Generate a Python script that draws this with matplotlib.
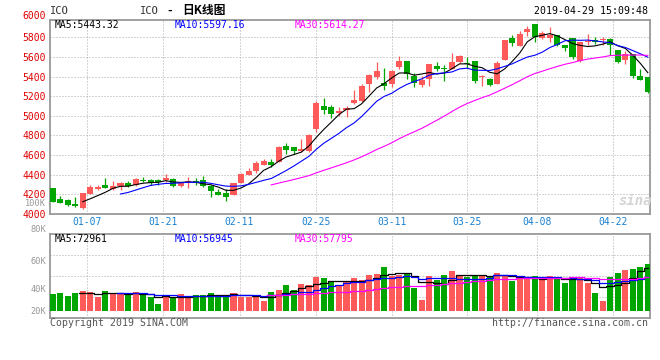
import numpy as np
import pandas as pd
import matplotlib
matplotlib.use("Agg")
import matplotlib.pyplot as plt

plt.rcParams['font.family'] = ['DejaVu Sans Mono', 'Noto Sans CJK SC']

# daily K data, 2018-12-27 .. 2019-04-29 (80 trading days)
opens = [4264, 4153, 4142, 4102, 4064, 4207, 4254, 4295, 4258, 4281,
         4312, 4292, 4346, 4346, 4349, 4342, 4353, 4281, 4312, 4336,
         4346, 4288, 4224, 4214, 4197, 4319, 4400, 4438, 4499, 4530,
         4530, 4694, 4684, 4646, 4646, 4865, 5104, 5091, 5026, 5063,
         5128, 5149, 5326, 5395, 5330, 5320, 5501, 5556, 5402, 5313,
         5371, 5504, 5491, 5481, 5553, 5536, 5559, 5393, 5376, 5329,
         5573, 5793, 5708, 5858, 5936, 5793, 5793, 5820, 5725, 5793,
         5556, 5756, 5776, 5769, 5780, 5671, 5569, 5630, 5407, 5397]
highs = [4266, 4180, 4156, 4173, 4214, 4295, 4295, 4366, 4336, 4325,
         4336, 4366, 4376, 4356, 4359, 4403, 4363, 4325, 4373, 4366,
         4386, 4298, 4258, 4251, 4315, 4414, 4470, 4540, 4557, 4560,
         4694, 4725, 4684, 4766, 4814, 5149, 5186, 5111, 5091, 5097,
         5268, 5320, 5422, 5549, 5484, 5463, 5607, 5556, 5439, 5402,
         5525, 5545, 5518, 5637, 5624, 5603, 5559, 5420, 5386, 5556,
         5773, 5827, 5861, 5912, 5936, 5861, 5902, 5820, 5725, 5793,
         5753, 5834, 5800, 5800, 5793, 5671, 5658, 5630, 5478, 5397]
lows = [4118, 4108, 4081, 4071, 4054, 4200, 4244, 4261, 4244, 4247,
        4275, 4281, 4325, 4295, 4295, 4325, 4278, 4278, 4264, 4292,
        4278, 4176, 4190, 4136, 4197, 4312, 4398, 4420, 4499, 4482,
        4530, 4615, 4612, 4636, 4636, 4834, 5022, 4974, 5002, 4988,
        5121, 5138, 5241, 5371, 5262, 5299, 5474, 5371, 5296, 5296,
        5303, 5453, 5354, 5481, 5539, 5488, 5339, 5308, 5308, 5329,
        5573, 5708, 5708, 5810, 5753, 5780, 5749, 5712, 5658, 5583,
        5546, 5725, 5732, 5725, 5624, 5542, 5532, 5386, 5369, 5234]
closes = [4122, 4115, 4095, 4081, 4214, 4275, 4275, 4264, 4281, 4315,
          4281, 4356, 4336, 4312, 4329, 4366, 4288, 4315, 4336, 4312,
          4288, 4237, 4193, 4176, 4312, 4407, 4441, 4520, 4544, 4499,
          4687, 4656, 4643, 4667, 4807, 5135, 5063, 5015, 5046, 5084,
          5159, 5309, 5415, 5453, 5306, 5453, 5556, 5422, 5337, 5368,
          5525, 5480, 5477, 5553, 5614, 5525, 5359, 5403, 5319, 5539,
          5773, 5742, 5834, 5885, 5800, 5847, 5824, 5719, 5695, 5600,
          5753, 5766, 5753, 5780, 5722, 5553, 5630, 5403, 5369, 5244]
# volume, thousands
volumes = [29.7, 31.5, 26.3, 31.5, 34.3, 32.6, 24.6, 34.9, 28.6, 30.9,
           26.9, 32.6, 27.5, 24.6, 12.6, 27.5, 24.0, 29.7, 23.5, 27.5,
           27.5, 30.9, 27.5, 27.5, 30.9, 24.0, 24.0, 24.0, 17.2, 32.6,
           36.6, 45.2, 36.6, 46.9, 45.2, 58.9, 56.6, 49.8, 44.6, 51.5,
           56.6, 53.2, 61.8, 63.5, 75.5, 60.6, 62.3, 63.5, 40.0, 18.9,
           60.6, 53.2, 61.8, 68.6, 61.8, 58.9, 60.6, 60.6, 58.9, 65.8,
           61.8, 52.0, 56.0, 54.3, 60.6, 54.3, 60.6, 54.3, 48.6, 57.8,
           56.0, 48.0, 30.9, 17.2, 58.9, 65.8, 70.4, 72.1, 76.1, 80.6]

tick_labels = ["01-07", "01-21", "02-11", "02-25", "03-11", "03-25", "04-08", "04-22"]
price_ticks = [4000, 4200, 4400, 4600, 4800, 5000, 5200, 5400, 5600, 5800]
price_ma_text = ["MA5:5443.32", "MA10:5597.16", "MA30:5614.27"]
vol_ma_text = ["MA5:72961", "MA10:56945", "MA30:57795"]
vol_axis_labels = ["100K", "80K", "60K", "40K", "20K"]

# layout (pixels of the 660x360 picture)
tick_pos = [4.6, 14.7, 24.8, 34.9, 45.0, 55.0, 64.25, 74.35]
vol_label_px = [203.5, 230, 261, 290, 311]
ma_text_px = [55, 175, 295]
ma_colors = ['black', '#0000ff', '#ff00ff']
UP, DOWN = '#ff5a5a', '#00a600'
GRID = '#aaaaaa'
SPINE = '#999999'

W, H = 660, 360
def fx(px):
    return px / W
def fy(py):
    return 1 - py / H

x = np.arange(len(closes))
o = np.array(opens, float)
c = np.array(closes, float)
up = c >= o
cols = [UP if u else DOWN for u in up]

fig = plt.figure(figsize=(6.6, 3.6), dpi=100)

# ---------------- price panel ----------------
ax = fig.add_axes([fx(50), fy(214), fx(649.5) - fx(50), fy(19.5) - fy(214)])
ax.set_xlim(-0.36, 79.22)
ax.set_ylim(4000, 5982)

body_lo = np.minimum(o, c)
body_h = np.maximum(np.abs(c - o), 10)
ax.vlines(x, lows, highs, colors=cols, linewidth=0.9, zorder=3)
ax.bar(x, body_h, bottom=body_lo, width=0.8, color=cols, linewidth=0, zorder=4)

cs = pd.Series(closes, dtype=float)
for n, col in zip([5, 10, 30], ma_colors):
    ax.plot(x, cs.rolling(n).mean(), color=col, linewidth=0.8, zorder=5)

ax.set_yticks(price_ticks)
ax.set_yticklabels([str(v) for v in price_ticks])
ax.set_xticks(tick_pos)
ax.set_xticklabels(tick_labels)
ax.grid(True, color=GRID, linestyle=(0, (1, 2)), linewidth=0.72)
ax.set_axisbelow(True)
ax.tick_params(axis='y', length=0, pad=3, labelsize=7, labelcolor='#e00000')
ax.tick_params(axis='x', length=0, pad=2.5, labelsize=7, labelcolor='#1a80d0')
for s in ax.spines.values():
    s.set_color(SPINE)
    s.set_linewidth(1.3)
fig.text(fx(46), fy(16), "6000", ha='right', va='center', fontsize=7, color='#e00000')

for t, px, col in zip(price_ma_text, ma_text_px, ma_colors):
    fig.text(fx(px), fy(24.5), t, ha='left', va='center', fontsize=7, color=col)

fig.text(fx(618), fy(201), "sina", ha='left', va='center', fontsize=10,
         fontweight='bold', style='italic', color='#d4d4d4')

# ---------------- volume panel ----------------
vax = fig.add_axes([fx(50), fy(318), fx(649.5) - fx(50), fy(234) - fy(318)])
vax.set_xlim(-0.36, 79.22)
v_lo, v_hi = -12.0, 132.0
vax.set_ylim(v_lo, v_hi)
vax.bar(x, volumes, width=0.8, color=cols, linewidth=0, zorder=3)
vs = pd.Series(volumes, dtype=float)
for n, col in zip([5, 10, 30], ma_colors):
    vax.plot(x, vs.rolling(n).mean(), color=col, linewidth=0.9,
             drawstyle='steps-mid', zorder=4)
vax.set_yticks([v_lo + (v_hi - v_lo) * f for f in (0.25, 0.5, 0.75)])
vax.set_xticks(tick_pos)
vax.set_yticklabels([])
vax.set_xticklabels([])
vax.grid(True, color=GRID, linestyle=(0, (1, 2)), linewidth=0.72)
vax.set_axisbelow(True)
vax.tick_params(length=0)
for s in vax.spines.values():
    s.set_color(SPINE)
    s.set_linewidth(1.3)

for lab, py in zip(vol_axis_labels, vol_label_px):
    fig.text(fx(46), fy(py), lab, ha='right', va='center', fontsize=6.2, color='#999999')
for t, px, col in zip(vol_ma_text, ma_text_px, ma_colors):
    fig.text(fx(px), fy(239), t, ha='left', va='center', fontsize=7, color=col)

# ---------------- header / footer ----------------
fig.text(fx(50), fy(11), "ICO", ha='left', va='center', fontsize=7.5, color='#333333')
fig.text(fx(140), fy(10.5), "ICO", ha='left', va='center', fontsize=7.5, color='#333333')
fig.text(fx(166), fy(10.5), "-", ha='left', va='center', fontsize=8, color='black',
         fontweight='bold')
fig.text(fx(182), fy(10.5), "日K线图", ha='left', va='center', fontsize=8.5,
         color='black', fontweight='bold', family=['Noto Sans CJK SC', 'DejaVu Sans'])
fig.text(fx(648), fy(11.5), "2019-04-29 15:09:48", ha='right', va='center',
         fontsize=7.1, color='black')
fig.text(fx(50), fy(323), "Copyright 2019 SINA.COM", ha='left', va='center',
         fontsize=7.1, color='#555555')
fig.text(fx(648), fy(323), "http://finance.sina.com.cn", ha='right', va='center',
         fontsize=7.1, color='#555555')

fig.savefig("out.png", dpi=100)
